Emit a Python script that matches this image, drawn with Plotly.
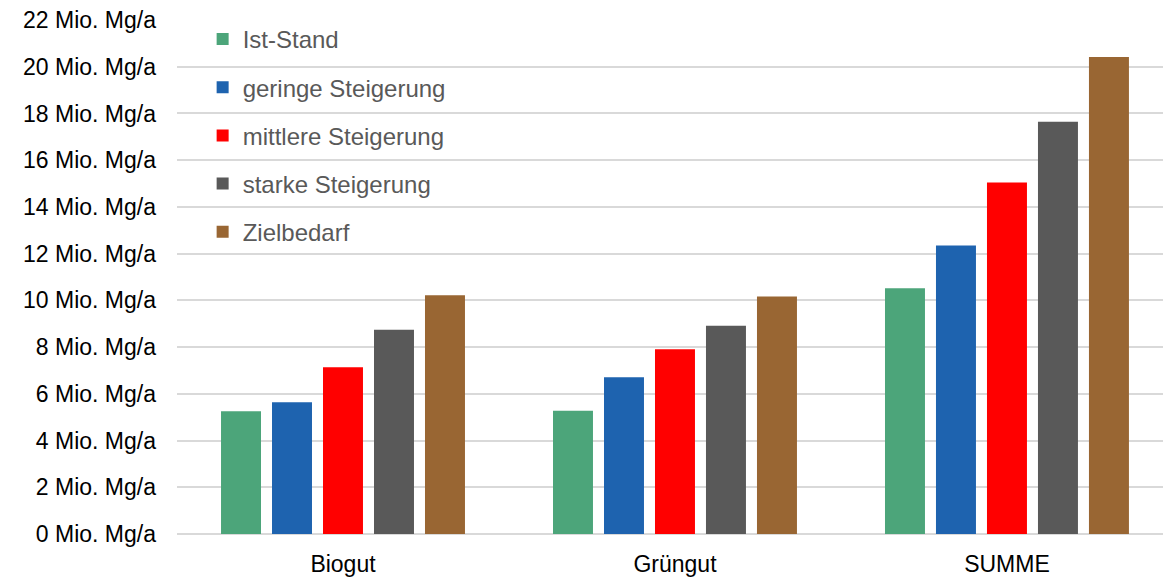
import plotly.graph_objects as go

categories = ["Biogut", "Grüngut", "SUMME"]
series_names = ["Ist-Stand", "geringe Steigerung", "mittlere Steigerung", "starke Steigerung", "Zielbedarf"]
ist_stand = [5.25, 5.27, 10.52]
geringe = [5.64, 6.71, 12.35]
mittlere = [7.14, 7.91, 15.05]
starke = [8.74, 8.91, 17.65]
zielbedarf = [10.22, 10.17, 20.42]
series_values = [ist_stand, geringe, mittlere, starke, zielbedarf]
colors = ["#4CA57A", "#1E63AF", "#FF0000", "#595959", "#996633"]

FONT = "Liberation Sans, Arial, sans-serif"

fig = go.Figure()
for i, (name, vals, col) in enumerate(zip(series_names, series_values, colors)):
    fig.add_trace(go.Bar(
        x=categories, y=vals, name=name, marker_color=col,
        marker_line_width=0, legendgroup=f"g{i}",
    ))

fig.update_layout(
    width=1163, height=581,
    margin=dict(l=177, r=0, t=20, b=46.5),
    barmode="group", bargap=0.232, bargroupgap=0.216,
    plot_bgcolor="white", paper_bgcolor="white",
    font=dict(family=FONT, size=24, color="#000000"),
    showlegend=True,
    legend=dict(
        x=0.026, y=1.006, xanchor="left", yanchor="top",
        bgcolor="rgba(0,0,0,0)", borderwidth=0,
        font=dict(family=FONT, size=24, color="#595959"),
        tracegroupgap=14, traceorder="grouped",
    ),
    xaxis=dict(
        type="category", range=[-0.5, 2.47],
        showgrid=False, showline=False, ticks="",
        ticklabelstandoff=14,
        tickfont=dict(family=FONT, size=23, color="#000000"),
    ),
    yaxis=dict(
        range=[0, 22], dtick=2, tick0=0,
        ticksuffix=" Mio. Mg/a",
        showgrid=True, gridcolor="#D9D9D9", gridwidth=1.5,
        zeroline=True, zerolinecolor="#D9D9D9", zerolinewidth=1.5,
        showline=False, ticks="", ticklabelstandoff=20,
        tickfont=dict(family=FONT, size=23, color="#000000"),
    ),
)

fig.write_html("out.html")
